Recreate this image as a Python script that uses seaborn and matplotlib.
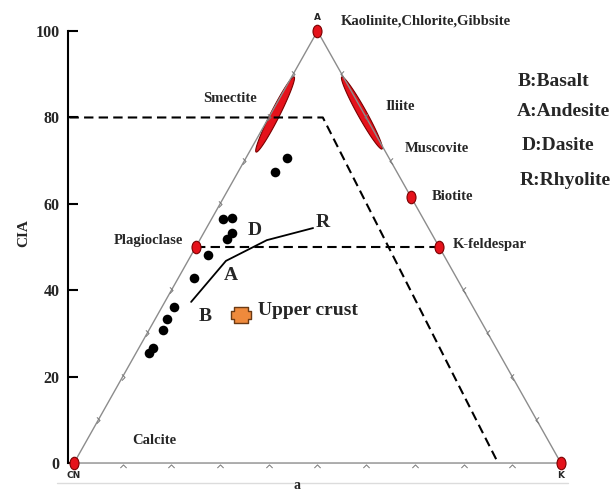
import numpy as np
import pandas as pd
import matplotlib
matplotlib.use("Agg")
import matplotlib.pyplot as plt
import seaborn as sns
from matplotlib.markers import MarkerStyle
from matplotlib.path import Path
from matplotlib.transforms import Affine2D
from matplotlib.patches import Polygon

# ---- A-CN-K compositions (percent); A is the CIA value ----
sample_cia = [70.6, 67.4, 56.5, 56.7, 53.2, 51.9, 48.1, 42.8, 36.1, 33.3, 30.8, 26.6, 25.5]
sample_k = [8.4, 7.6, 2.4, 4.0, 5.8, 5.5, 3.4, 3.2, 2.4, 2.4, 2.9, 2.9, 2.7]

# igneous rock trend: Basalt -> Andesite -> Dasite -> Rhyolite
rock_codes = ["B", "A", "D", "R"]
rock_names = ["Basalt", "Andesite", "Dasite", "Rhyolite"]
rock_cia = [37.3, 46.8, 51.6, 54.4]
rock_k = [5.4, 7.8, 13.8, 21.9]

upper_crust_cia = [34.3]
upper_crust_k = [17.2]

corner_names = ["CN", "A", "K"]
corner_cia = [0, 100, 0]
corner_k = [0, 0, 100]

mineral_names = ["Plagioclase", "K-feldespar", "Biotite"]
mineral_cia = [50, 50, 61.5]
mineral_k = [0, 50, 38.5]

# clay mineral fields (end points along the triangle edges)
smectite_cia = [72.0, 89.4]
smectite_k = [1.4, 0.5]
illite_cia = [72.7, 89.4]
illite_k = [26.9, 10.3]

# feldspar join and weathering limit
feldspar_cia = [50, 50]
feldspar_k = [0, 50]
limit_cia = [80, 0]
limit_k = [11.1, 87.1]

edge_ticks = [10, 20, 30, 40, 50, 60, 70, 80, 90]
cia_ticks = [0, 20, 40, 60, 80, 100]


def to_xy(a, k):
    a = np.asarray(a, dtype=float)
    k = np.asarray(k, dtype=float)
    return k + a / 2.0, a


sns.set_theme(style="white")
plt.rcParams["font.family"] = ["Liberation Serif", "DejaVu Serif"]
plt.rcParams["font.weight"] = "bold"

fig = plt.figure(figsize=(6.14, 4.93), dpi=100)
ax = fig.add_axes([0, 0, 1, 1])
ax.set_xlim(-15.2, 110.9)
ax.set_ylim(-6.94, 107.2)
ax.set_facecolor("white")

EDGE = "#8c8c8c"
RED = "#E5121B"
RED_EDGE = "#7A0000"

# faint base rule of the panel
ax.plot([-3.5, 101.4], [-4.6, -4.6], color="#dcdcdc", lw=1.0, zorder=1)

# triangle outline
cx, cy = to_xy(corner_cia + [corner_cia[0]], corner_k + [corner_k[0]])
ax.plot(cx, cy, color=EDGE, lw=1.0, zorder=3)


# clay fields as thin ellipses along the edges
def ellipse_patch(cia_pair, k_pair, minor_px):
    x, y = to_xy(cia_pair, k_pair)
    P = ax.transData.transform(np.column_stack([x, y]))
    c = P.mean(axis=0)
    u = (P[1] - P[0]) / 2.0
    n = np.array([-u[1], u[0]]) / np.hypot(*u) * minor_px / 2.0
    t = np.linspace(0, 2 * np.pi, 120)
    pts = c + np.outer(np.cos(t), u) + np.outer(np.sin(t), n)
    pts = ax.transData.inverted().transform(pts)
    return Polygon(pts, closed=True, facecolor=RED, edgecolor=RED_EDGE, lw=0.8, zorder=2)


ax.add_patch(ellipse_patch(smectite_cia, smectite_k, 9))
ax.add_patch(ellipse_patch(illite_cia, illite_k, 9))

# small arrow ticks along the three edges
chev = Path([(-0.5, -1), (0.5, 0), (-0.5, 1)], [Path.MOVETO, Path.LINETO, Path.LINETO])
tick_style = dict(ls="none", mfc="none", mec="#777777", ms=4.5, mew=0.7, zorder=4)
bx, by = to_xy(np.zeros(len(edge_ticks)), edge_ticks)
ax.plot(bx, by - 0.75, marker=MarkerStyle(chev, transform=Affine2D().rotate_deg(90)), **tick_style)
left_a = [v for v in edge_ticks if v != 50]
lx, ly = to_xy(left_a, np.zeros(len(left_a)))
ax.plot(lx, ly, marker=MarkerStyle(chev), **tick_style)
right_a = [v for v in edge_ticks if v not in (50, 60)]
rx, ry = to_xy(right_a, 100 - np.asarray(right_a))
ax.plot(rx, ry, marker=MarkerStyle(chev, transform=Affine2D().rotate_deg(180)), **tick_style)

# dashed reference lines
dash = dict(color="black", lw=1.5, dashes=(4.5, 2.5), zorder=3)
fx, fy = to_xy(feldspar_cia, feldspar_k)
ax.plot(fx, fy, **dash)
wx, wy = to_xy(limit_cia, limit_k)
SPINE_X = -1.23
ax.plot(np.r_[SPINE_X + 0.3, wx], np.r_[wy[0], wy], **dash)

# rock trend line
rx_, ry_ = to_xy(rock_cia, rock_k)
rock_df = pd.DataFrame({"x": rx_, "y": ry_, "rock": rock_codes})
sns.lineplot(data=rock_df, x="x", y="y", sort=False, estimator=None,
             color="black", lw=1.3, ax=ax, zorder=4)

# end-member minerals and corners
oval = MarkerStyle("o", transform=Affine2D().scale(0.72, 1.0))
mx, my = to_xy(corner_cia + mineral_cia, corner_k + mineral_k)
ax.plot(mx, my, ls="none", marker=oval, ms=9, mfc=RED, mec=RED_EDGE, mew=0.8, zorder=6)

# samples
sx_, sy_ = to_xy(sample_cia, sample_k)
sample_df = pd.DataFrame({"x": sx_, "y": sy_})
sns.scatterplot(data=sample_df, x="x", y="y", color="black", s=48,
                edgecolor="black", linewidth=0, ax=ax, zorder=7)

# upper continental crust
plus_verts = [(-0.65, 0.75), (0.65, 0.75), (0.65, 0.4), (1, 0.4), (1, -0.4), (0.65, -0.4),
              (0.65, -0.75), (-0.65, -0.75), (-0.65, -0.4), (-1, -0.4), (-1, 0.4),
              (-0.65, 0.4), (-0.65, 0.75)]
plus_path = Path(plus_verts, closed=True)
ux, uy = to_xy(upper_crust_cia, upper_crust_k)
ax.plot(ux, uy, ls="none", marker=plus_path, ms=14.5, mfc="#EF8A3C", mec="#6b3a14",
        mew=1.0, zorder=7)
ax.text(37.8, 35.4, "Upper crust", fontsize=14, fontweight="bold", va="center", ha="left")

# rock trend letters
letter_pos = {"B": (26.9, 34.0), "A": (32.2, 43.5), "D": (37.2, 53.9), "R": (51.1, 55.8)}
for code in rock_codes:
    x, y = letter_pos[code]
    ax.text(x, y, code, fontsize=14, fontweight="bold", ha="center", va="center")

# key to the letters
key_pos = [(91.2, 88.4), (91.0, 81.3), (92.0, 73.4), (91.6, 65.5)]
for code, name, (x, y) in zip(rock_codes, rock_names, key_pos):
    ax.text(x, y, f"{code}:{name}", fontsize=14, fontweight="bold", ha="left", va="center")

# mineral labels
small = dict(fontsize=10.5, fontweight="bold", va="center")
ax.text(54.8, 102.3, "Kaolinite,Chlorite,Gibbsite", ha="left", **small)
ax.text(32.0, 84.3, "Smectite", ha="center", **small)
ax.text(66.9, 82.6, "Iliite", ha="center", **small)
ax.text(74.5, 72.9, "Muscovite", ha="center", **small)
ax.text(73.5, 61.6, "Biotite", ha="left", **small)
ax.text(77.8, 50.5, "K-feldespar", ha="left", **small)
ax.text(22.4, 51.6, "Plagioclase", ha="right", **small)
ax.text(16.4, 5.1, "Calcite", ha="center", **small)

# corner letters
corner_font = dict(fontsize=6.5, fontweight="bold", family="DejaVu Sans", ha="center", va="center")
ccx, ccy = to_xy(corner_cia, corner_k)
ax.text(ccx[0], ccy[0] - 3.0, "CN", **corner_font)
ax.text(ccx[1], ccy[1] + 3.2, "A", **corner_font)
ax.text(ccx[2], ccy[2] - 3.0, "K", **corner_font)

# panel letter
ax.text(45.8, -6.8, "a", fontsize=10, fontweight="bold", ha="center", va="bottom")

# CIA axis
for side in ("top", "right", "bottom"):
    ax.spines[side].set_visible(False)
ax.spines["left"].set_position(("data", SPINE_X))
ax.spines["left"].set_bounds(0, 100)
ax.spines["left"].set_color("black")
ax.spines["left"].set_linewidth(1.5)
ax.set_xticks([])
ax.set_yticks(cia_ticks)
ax.set_yticklabels([str(v) for v in cia_ticks], fontsize=11.5, fontweight="bold")
ax.tick_params(axis="y", direction="in", length=7, width=1.5, pad=6, left=True, color="black")
ax.set_xlabel("")
ax.set_ylabel("CIA", fontsize=11, fontweight="bold")
ax.yaxis.set_label_coords(0.05, 0.527, transform=fig.transFigure)

fig.savefig("out.png", dpi=100)
